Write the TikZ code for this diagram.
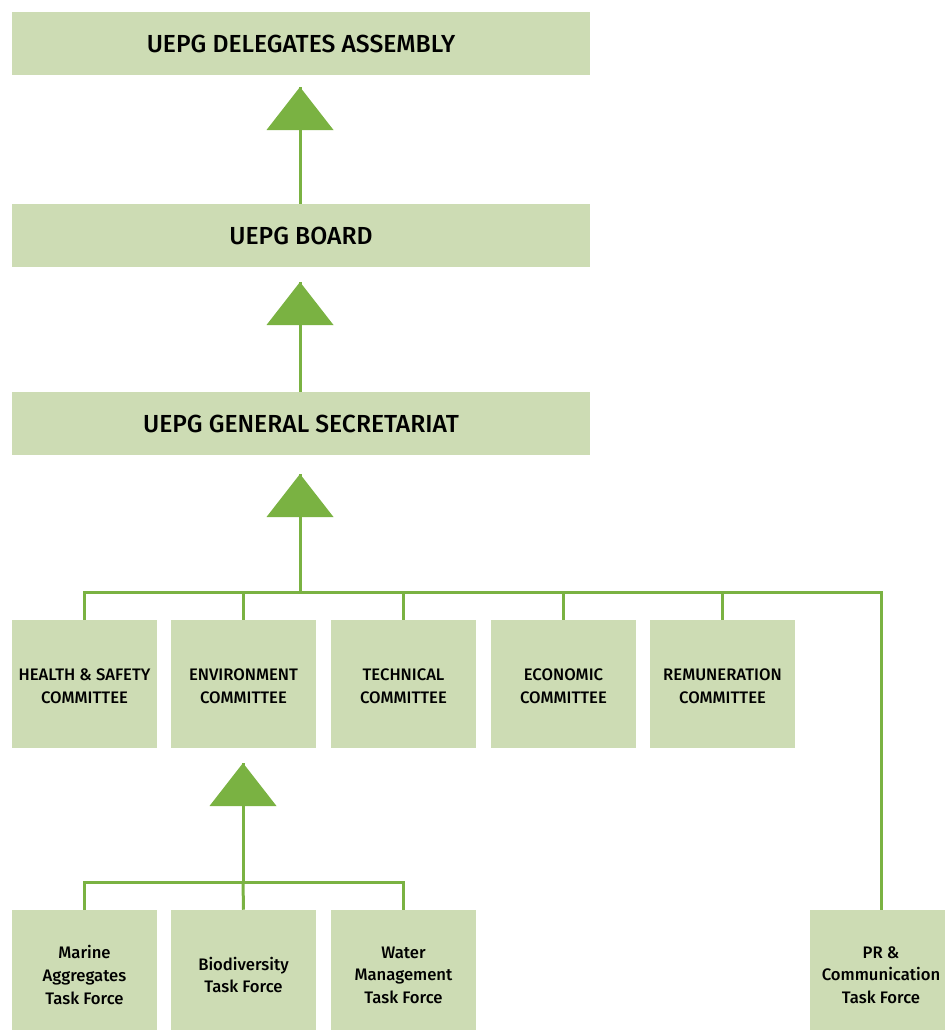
\documentclass[tikz,border=0pt]{standalone}
\usepackage{fontspec}
\setmainfont{Fira Sans}[BoldFont={* Medium}]
\definecolor{boxfill}{RGB}{205,220,180}
\definecolor{lgreen}{RGB}{122,178,66}
\begin{document}
\begin{tikzpicture}[x=0.75pt,y=-0.75pt,
  box/.style={fill=boxfill,inner sep=0pt},
  wide/.style={box,minimum width=578*0.75pt,minimum height=63*0.75pt,align=center,font=\fontsize{18.5}{22}\bfseries},
  comm/.style={box,minimum width=145*0.75pt,minimum height=128*0.75pt},
  task/.style={box,minimum width=145*0.75pt,minimum height=120*0.75pt},
  ctext/.style={inner sep=0pt,align=center,font=\fontsize{12.5}{17.2}\bfseries},
  ttext/.style={inner sep=0pt,align=center,font=\fontsize{12.5}{16.9}\bfseries},
  link/.style={draw=lgreen,line width=2.25pt},
  tri/.style={fill=lgreen}
]
\useasboundingbox (0,0) rectangle (945,1031);
\clip (0,0) rectangle (945,1031);
\node[wide] (asm) at (301,43.5) {UEPG DELEGATES ASSEMBLY};
\node[wide] (brd) at (301,235.5) {UEPG BOARD};
\node[wide] (sec) at (301,423.5) {UEPG GENERAL SECRETARIAT};

\node[comm] (hs) at (84.5,684) {};
\node[comm] (env) at (243.5,684) {};
\node[comm] (tec) at (403.5,684) {};
\node[comm] (eco) at (563.5,684) {};
\node[comm] (rem) at (722.5,684) {};
\node[ctext] (hs-t) at ([shift={(0,2)}]hs.center) {HEALTH \& SAFETY\\COMMITTEE};
\node[ctext] (env-t) at ([shift={(0,2)}]env.center) {ENVIRONMENT\\COMMITTEE};
\node[ctext] (tec-t) at ([shift={(0,2)}]tec.center) {TECHNICAL\\COMMITTEE};
\node[ctext] (eco-t) at ([shift={(0,2)}]eco.center) {ECONOMIC\\COMMITTEE};
\node[ctext] (rem-t) at ([shift={(0,2)}]rem.center) {REMUNERATION\\COMMITTEE};

\node[task] (mar) at (84.5,970) {};
\node[task] (bio) at (243.5,970) {};
\node[task] (wat) at (403.5,970) {};
\node[task,minimum width=142*0.75pt] (pr) at (881,970) {};
\node[ttext] (mar-t) at ([shift={(0,5)}]mar.center) {Marine\\Aggregates\\Task Force};
\node[ttext] (bio-t) at ([shift={(0,5)}]bio.center) {Biodiversity\\Task Force};
\node[ttext] (wat-t) at ([shift={(0,5)}]wat.center) {Water\\Management\\Task Force};
\node[ttext] (pr-t) at ([shift={(0,5)}]pr.center) {PR \&\\Communication\\Task Force};

% coordinates
\coordinate (t1) at (300,87);
\coordinate (t2) at (300,282);
\coordinate (t3) at (300,474);
\coordinate (t4) at (243,763);
\coordinate (bar1) at (300,592);
\coordinate (bar2) at (243,882);

% connectors
\draw[link] (brd.north -| t1) -- (t1);
\draw[link] (sec.north -| t2) -- (t2);
\draw[link] (bar1) -- (t3);
\draw[link] (bar2) -- (t4);
\draw[link] (hs.north) |- (bar1) -| (pr.north);
\draw[link] (env.north) -- (env.north |- bar1);
\draw[link] (tec.north) -- (tec.north |- bar1);
\draw[link] (eco.north) -- (eco.north |- bar1);
\draw[link] (rem.north) -- (rem.north |- bar1);
\draw[link] (mar.north) |- (bar2) -| (wat.north);
\draw[link] (bio.north) -- (bar2);

% triangles
\foreach \t in {t1,t2,t3,t4}{
  \fill[tri] (\t) -- ++(33.5,43) -- ++(-67,0) -- cycle;
}
\end{tikzpicture}
\end{document}
